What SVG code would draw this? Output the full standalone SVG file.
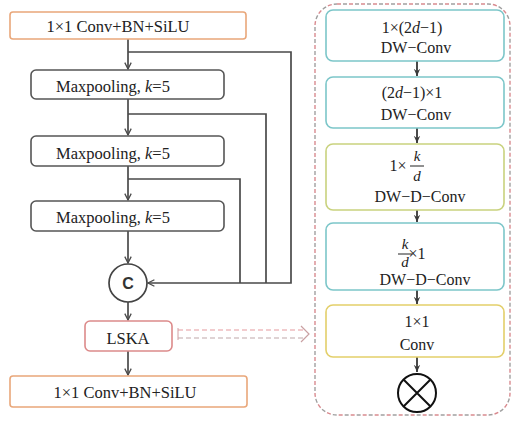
<svg xmlns="http://www.w3.org/2000/svg" width="514" height="424" viewBox="0 0 514 424">
<defs>
<style>
.t{font-size:16.5px;fill:#222;text-anchor:middle;}
.tr{font-size:16px;fill:#222;text-anchor:middle;}
.fr{font-size:15px;fill:#222;text-anchor:middle;font-style:italic;}
.i{font-style:italic;}
.box{fill:#fff;stroke-width:1.6;}
.ln{fill:none;stroke:#4a4a4a;stroke-width:1.7;}
.rl{fill:none;stroke:#4a4a4a;stroke-width:2;}
</style>
<marker id="ar" viewBox="0 0 10 10" refX="9" refY="5" markerWidth="8" markerHeight="8" orient="auto" markerUnits="userSpaceOnUse">
<path d="M1,1 L9,5 L1,9" fill="none" stroke="#4a4a4a" stroke-width="1.6"/>
</marker>
<marker id="ar2" viewBox="0 0 10 10" refX="9" refY="5" markerWidth="8" markerHeight="8" orient="auto" markerUnits="userSpaceOnUse">
<path d="M0,1 L9,5 L0,9 L3,5 Z" fill="#3a3a3a"/>
</marker>
</defs>
<rect width="514" height="424" fill="#fff"/>

<g id="panel">
<rect x="315" y="4" width="195" height="411" rx="22" fill="none" stroke="#d98a8f" stroke-width="1.4" stroke-dasharray="4 8"/>
<rect x="315" y="4" width="195" height="411" rx="22" fill="none" stroke="#a0a0a0" stroke-width="1.4" stroke-dasharray="4 8" stroke-dashoffset="6"/>
</g>

<g id="connectors">
<path class="ln" d="M128,39 V69" marker-end="url(#ar)"/>
<path class="ln" d="M128,52 H291 V283 H148" marker-end="url(#ar)"/>
<path class="ln" d="M128,99 V135" marker-end="url(#ar)"/>
<path class="ln" d="M128,114 H266 V283"/>
<path class="ln" d="M128,166 V200" marker-end="url(#ar)"/>
<path class="ln" d="M128,179 H240 V283"/>
<path class="ln" d="M128,231 V263" marker-end="url(#ar)"/>
<path class="ln" d="M128,302 V320" marker-end="url(#ar)"/>
<path class="ln" d="M128,351 V375" marker-end="url(#ar)"/>
<path d="M178,330 H305" fill="none" stroke="#e59a9d" stroke-width="1.2" stroke-dasharray="5 3"/>
<path d="M178,338 H305" fill="none" stroke="#c0a8aa" stroke-width="1.2" stroke-dasharray="5 3"/>
<path d="M178,328 V340" fill="none" stroke="#d0a0a3" stroke-width="1"/>
<path d="M301,326 L309,334 L301,342" fill="none" stroke="#c9a0a2" stroke-width="1.2"/>
<path class="rl" d="M417,61 V76" marker-end="url(#ar2)"/>
<path class="rl" d="M417,128 V143" marker-end="url(#ar2)"/>
<path class="rl" d="M417,210 V222" marker-end="url(#ar2)"/>
<path class="rl" d="M417,290 V304" marker-end="url(#ar2)"/>
<path class="rl" d="M417,357 V372" marker-end="url(#ar2)"/>
</g>

<g font-family="Liberation Serif, Times New Roman, serif">
<g id="conv1">
<rect class="box" x="10" y="12" width="236" height="27" rx="3" stroke="#e9a77a"/>
<text class="t" x="118" y="32">1×1 Conv+BN+SiLU</text>
</g>
<g id="maxpool1">
<rect class="box" x="31" y="70" width="193" height="29" rx="5" stroke="#555"/>
<text class="t" x="113" y="92">Maxpooling, <tspan class="i">k</tspan>=5</text>
</g>
<g id="maxpool2">
<rect class="box" x="31" y="136" width="193" height="30" rx="5" stroke="#555"/>
<text class="t" x="113" y="159">Maxpooling, <tspan class="i">k</tspan>=5</text>
</g>
<g id="maxpool3">
<rect class="box" x="31" y="201" width="193" height="30" rx="5" stroke="#555"/>
<text class="t" x="113" y="223">Maxpooling, <tspan class="i">k</tspan>=5</text>
</g>
<g id="concat">
<circle cx="128" cy="283" r="19" fill="#fff" stroke="#444" stroke-width="1.7"/>
<text x="128" y="289" text-anchor="middle" font-family="Liberation Sans, Arial, sans-serif" font-weight="bold" font-size="16" fill="#333">C</text>
</g>
<g id="lska">
<rect class="box" x="85" y="321" width="87" height="30" rx="5" stroke="#dc8a8a"/>
<text class="t" x="128" y="344">LSKA</text>
</g>
<g id="conv2">
<rect class="box" x="10" y="376" width="237" height="31" rx="3" stroke="#e9a77a"/>
<text class="t" x="125" y="398">1×1 Conv+BN+SiLU</text>
</g>

<g id="dw1">
<rect class="box" x="326" y="10" width="178" height="51" rx="7" stroke="#7cc6c9"/>
<text class="tr" x="412" y="33">1×(2<tspan class="i">d</tspan>−1)</text>
<text class="tr" x="416" y="53">DW−Conv</text>
</g>
<g id="dw2">
<rect class="box" x="326" y="77" width="178" height="51" rx="7" stroke="#7cc6c9"/>
<text class="tr" x="412" y="98">(2<tspan class="i">d</tspan>−1)×1</text>
<text class="tr" x="416" y="120">DW−Conv</text>
</g>
<g id="dwd1">
<rect class="box" x="326" y="144" width="178" height="66" rx="7" stroke="#c9d27e"/>
<text class="tr" x="398" y="171">1×</text>
<text class="fr" x="417" y="161">k</text>
<line x1="410" y1="166" x2="424" y2="166" stroke="#222" stroke-width="1"/>
<text class="fr" x="417" y="181">d</text>
<text class="tr" x="420" y="202">DW−D−Conv</text>
</g>
<g id="dwd2">
<rect class="box" x="326" y="223" width="178" height="67" rx="7" stroke="#7cc6c9"/>
<text class="fr" x="405" y="249">k</text>
<line x1="398" y1="254" x2="412" y2="254" stroke="#222" stroke-width="1"/>
<text class="fr" x="405" y="267">d</text>
<text class="tr" x="417" y="259" text-anchor="start">×1</text>
<text class="tr" x="425" y="285">DW−D−Conv</text>
</g>
<g id="conv11">
<rect class="box" x="326" y="305" width="178" height="52" rx="7" stroke="#e3cf6a"/>
<text class="tr" x="417" y="327">1×1</text>
<text class="tr" x="417" y="350">Conv</text>
</g>
</g>
<g id="mul">
<circle cx="417" cy="393" r="19" fill="#fff" stroke="#111" stroke-width="2"/>
<path d="M403.5,379.5 L430.5,406.5 M430.5,379.5 L403.5,406.5" stroke="#111" stroke-width="2"/>
</g>
</svg>
